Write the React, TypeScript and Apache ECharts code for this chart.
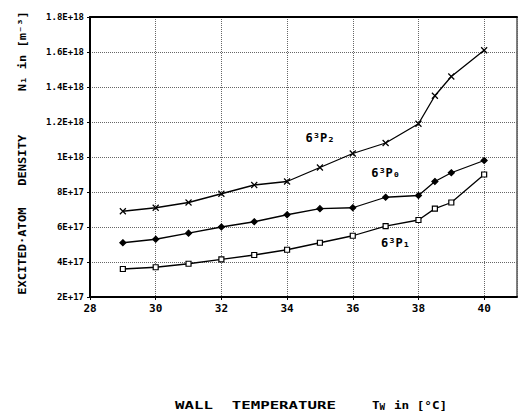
import React, { useEffect, useRef } from "react";
import * as echarts from "echarts";

const temperatures = [29, 30, 31, 32, 33, 34, 35, 36, 37, 38, 38.5, 39, 40];
const p2Values = [6.9e17, 7.1e17, 7.4e17, 7.9e17, 8.4e17, 8.6e17, 9.4e17, 1.02e18, 1.08e18, 1.19e18, 1.35e18, 1.46e18, 1.61e18];
const p0Values = [5.1e17, 5.3e17, 5.65e17, 6.0e17, 6.3e17, 6.7e17, 7.05e17, 7.1e17, 7.7e17, 7.8e17, 8.6e17, 9.1e17, 9.8e17];
const p1Values = [3.6e17, 3.7e17, 3.9e17, 4.15e17, 4.4e17, 4.7e17, 5.1e17, 5.5e17, 6.05e17, 6.4e17, 7.05e17, 7.4e17, 9.0e17];
const yTickLabels = ["2E+17", "4E+17", "6E+17", "8E+17", "1E+18", "1.2E+18", "1.4E+18", "1.6E+18", "1.8E+18"];
const xTickLabels = ["28", "30", "32", "34", "36", "38", "40"];
const seriesNames = ["6³P₂", "6³P₀", "6³P₁"];
const labelAnchors: [number, number][] = [[35.0, 1.11e18], [37.0, 9.1e17], [37.3, 5.1e17]];

const MONO = "'DejaVu Sans Mono', monospace";

function pairs(vals: number[]) {
  return temperatures.map((t, i) => [t, vals[i]]);
}

export default function App() {
  const ref = useRef<HTMLDivElement>(null);
  useEffect(() => {
    if (!ref.current) return;
    const chart = echarts.init(ref.current, undefined, { renderer: "svg" });
    const mkSeries = (name: string, vals: number[], symbol: string, size: number, fill: string, anchor: [number, number]) => ({
      name,
      type: "line",
      data: pairs(vals),
      symbol,
      symbolSize: size,
      showAllSymbol: true,
      lineStyle: { color: "#000", width: 1.3 },
      itemStyle: { color: fill, borderColor: "#000", borderWidth: 1.2 },
      markPoint: {
        symbol: "circle",
        symbolSize: 0,
        label: {
          show: true,
          formatter: name,
          color: "#000",
          fontFamily: MONO,
          fontWeight: "bold",
          fontSize: 12,
        },
        data: [{ coord: anchor }],
      },
    });
    chart.setOption({
      animation: false,
      backgroundColor: "#fff",
      grid: { left: 90, right: 3, top: 17, bottom: 123, show: true, borderColor: "#000", borderWidth: 1 },
      xAxis: [
        {
          type: "value",
          min: 28,
          max: 41,
          interval: 2,
          axisLine: { lineStyle: { color: "#000", width: 2 } },
          axisTick: { show: true, length: 3, lineStyle: { color: "#000" } },
          axisLabel: {
            color: "#000",
            fontFamily: MONO,
            fontWeight: "bold",
            fontSize: 11,
            margin: 6,
            showMaxLabel: false,
            formatter: (v: number) => (xTickLabels.indexOf(String(v)) >= 0 ? String(v) : ""),
          },
          splitLine: { show: true, lineStyle: { color: "#666", type: "dotted", width: 1 } },
        },
        {
          type: "value",
          position: "top",
          min: 28,
          max: 41,
          interval: 2,
          axisLine: { show: true, lineStyle: { color: "#000", width: 2 } },
          axisTick: { show: false },
          axisLabel: { show: false },
          splitLine: { show: false },
        },
      ],
      yAxis: {
        type: "value",
        min: 2e17,
        max: 1.8e18,
        interval: 2e17,
        axisLine: { show: true, lineStyle: { color: "#000", width: 2 } },
        axisTick: { show: true, length: 3, lineStyle: { color: "#000" } },
        axisLabel: {
          color: "#000",
          fontFamily: MONO,
          fontWeight: "bold",
          fontSize: 9,
          margin: 6,
          formatter: (v: number) => yTickLabels[Math.round(v / 2e17) - 1] ?? "",
        },
        splitLine: { show: true, lineStyle: { color: "#666", type: "dotted", width: 1 } },
      },
      series: [
        mkSeries(seriesNames[0], p2Values, "path://M0,0L10,10M10,0L0,10", 6, "#000", labelAnchors[0]),
        mkSeries(seriesNames[1], p0Values, "diamond", 6, "#000", labelAnchors[1]),
        mkSeries(seriesNames[2], p1Values, "rect", 5, "#fff", labelAnchors[2]),
      ],
      graphic: [
        {
          type: "text",
          x: 22,
          y: 153,
          rotation: Math.PI / 2,
          scaleX: 1.1,
          style: {
            text: "EXCITED·ATOM   DENSITY      N₁ in [m⁻³]",
            fill: "#000",
            font: `bold 11px ${MONO}`,
            align: "center",
            verticalAlign: "middle",
          },
        },
        {
          type: "text",
          x: 175,
          y: 405,
          scaleX: 1.43,
          style: {
            text: "WALL  TEMPERATURE",
            fill: "#000",
            font: `bold 11px ${MONO}`,
            align: "left",
            verticalAlign: "middle",
          },
        },
        {
          type: "text",
          x: 372,
          y: 405,
          scaleX: 1.15,
          style: {
            text: "{a|T}{b|W}{a| in [°C]}",
            fill: "#000",
            align: "left",
            verticalAlign: "middle",
            rich: {
              a: { fontFamily: MONO, fontWeight: "bold", fontSize: 11, fill: "#000" },
              b: { fontFamily: MONO, fontWeight: "bold", fontSize: 8, fill: "#000", padding: [5, 1, 0, 0] },
            },
          },
        },
      ],
    });
    return () => chart.dispose();
  }, []);
  return <div ref={ref} style={{ position: "absolute", left: 0, top: 0, width: 520, height: 420 }} />;
}
